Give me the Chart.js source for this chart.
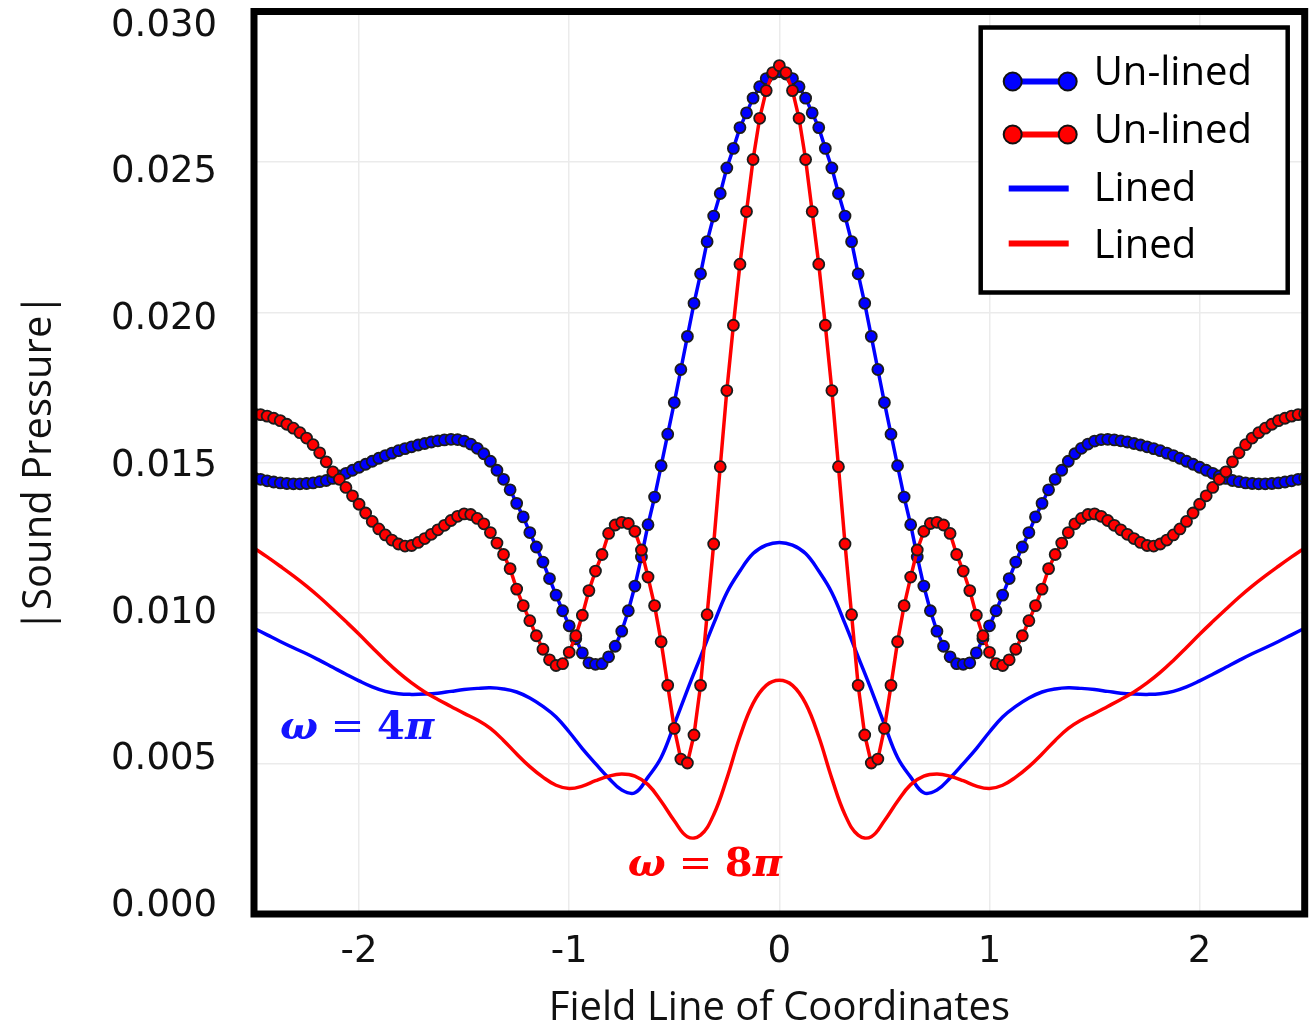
<!DOCTYPE html>
<html>
<head>
<meta charset="utf-8">
<script src="https://cdn.jsdelivr.net/npm/chart.js@4.4.0/dist/chart.umd.min.js"></script>
<style>
  html, body { margin: 0; padding: 0; background: #fff; }
  #wrap { width: 1312px; height: 1027px; }
</style>
</head>
<body>
<div id="wrap"><canvas id="chart" width="1312" height="1027"></canvas></div>
<script>
// sample positions along the field line (un-lined, with markers)
const xUnlined = [
  -2.5, -2.46875, -2.4375, -2.40625, -2.375, -2.34375, -2.3125, -2.28125, -2.25, -2.21875,
  -2.1875, -2.15625, -2.125, -2.09375, -2.0625, -2.03125, -2, -1.96875, -1.9375, -1.90625,
  -1.875, -1.84375, -1.8125, -1.78125, -1.75, -1.71875, -1.6875, -1.65625, -1.625, -1.59375,
  -1.5625, -1.53125, -1.5, -1.46875, -1.4375, -1.40625, -1.375, -1.34375, -1.3125, -1.28125,
  -1.25, -1.21875, -1.1875, -1.15625, -1.125, -1.09375, -1.0625, -1.03125, -1, -0.96875,
  -0.9375, -0.90625, -0.875, -0.84375, -0.8125, -0.78125, -0.75, -0.71875, -0.6875, -0.65625,
  -0.625, -0.59375, -0.5625, -0.53125, -0.5, -0.46875, -0.4375, -0.40625, -0.375, -0.34375,
  -0.3125, -0.28125, -0.25, -0.21875, -0.1875, -0.15625, -0.125, -0.09375, -0.0625, -0.03125,
  0,
  0.03125, 0.0625, 0.09375, 0.125, 0.15625, 0.1875, 0.21875, 0.25, 0.28125, 0.3125,
  0.34375, 0.375, 0.40625, 0.4375, 0.46875, 0.5, 0.53125, 0.5625, 0.59375, 0.625,
  0.65625, 0.6875, 0.71875, 0.75, 0.78125, 0.8125, 0.84375, 0.875, 0.90625, 0.9375,
  0.96875, 1, 1.03125, 1.0625, 1.09375, 1.125, 1.15625, 1.1875, 1.21875, 1.25,
  1.28125, 1.3125, 1.34375, 1.375, 1.40625, 1.4375, 1.46875, 1.5, 1.53125, 1.5625,
  1.59375, 1.625, 1.65625, 1.6875, 1.71875, 1.75, 1.78125, 1.8125, 1.84375, 1.875,
  1.90625, 1.9375, 1.96875, 2, 2.03125, 2.0625, 2.09375, 2.125, 2.15625, 2.1875,
  2.21875, 2.25, 2.28125, 2.3125, 2.34375, 2.375, 2.40625, 2.4375, 2.46875, 2.5
];

// |p| un-lined, omega = 4pi (blue dots)
const unlined4pi = [
  0.01450, 0.01445, 0.01440, 0.01436, 0.01433, 0.01431, 0.01430, 0.01430, 0.01431, 0.01433,
  0.01437, 0.01441, 0.01448, 0.01456, 0.01465, 0.01475, 0.01485, 0.01495, 0.01505, 0.01515,
  0.01524, 0.01532, 0.01540, 0.01547, 0.01553, 0.01559, 0.01564, 0.01569, 0.01573, 0.01576,
  0.01578, 0.01577, 0.01572, 0.01562, 0.01548, 0.01530, 0.01505, 0.01475, 0.01445, 0.01410,
  0.01365, 0.01320, 0.01268, 0.01220, 0.01170, 0.01115, 0.01060, 0.01008, 0.00958, 0.00915,
  0.00868, 0.00835, 0.00830, 0.00832, 0.00855, 0.00890, 0.00940, 0.01008, 0.01090, 0.01187,
  0.01294, 0.01386, 0.01490, 0.01595, 0.01700, 0.01810, 0.01920, 0.02030, 0.02128, 0.02235,
  0.02320, 0.02395, 0.02480, 0.02545, 0.02614, 0.02663, 0.02712, 0.02750, 0.02777, 0.02792,
  0.02800,
  0.02792, 0.02777, 0.02750, 0.02712, 0.02663, 0.02614, 0.02545, 0.02480, 0.02395, 0.02320,
  0.02235, 0.02128, 0.02030, 0.01920, 0.01810, 0.01700, 0.01595, 0.01490, 0.01386, 0.01294,
  0.01187, 0.01090, 0.01008, 0.00940, 0.00890, 0.00855, 0.00832, 0.00830, 0.00835, 0.00868,
  0.00915, 0.00958, 0.01008, 0.01060, 0.01115, 0.01170, 0.01220, 0.01268, 0.01320, 0.01365,
  0.01410, 0.01445, 0.01475, 0.01505, 0.01530, 0.01548, 0.01562, 0.01572, 0.01577, 0.01578,
  0.01576, 0.01573, 0.01569, 0.01564, 0.01559, 0.01553, 0.01547, 0.01540, 0.01532, 0.01524,
  0.01515, 0.01505, 0.01495, 0.01485, 0.01475, 0.01465, 0.01456, 0.01448, 0.01441, 0.01437,
  0.01433, 0.01431, 0.01430, 0.01430, 0.01431, 0.01433, 0.01436, 0.01440, 0.01445, 0.01450
];

// |p| un-lined, omega = 8pi (red dots)
const unlined8pi = [
  0.01663, 0.01660, 0.01655, 0.01648, 0.01640, 0.01628, 0.01615, 0.01600, 0.01582, 0.01560,
  0.01533, 0.01503, 0.01470, 0.01445, 0.01418, 0.01390, 0.01362, 0.01333, 0.01305, 0.01280,
  0.01260, 0.01243, 0.01230, 0.01223, 0.01225, 0.01235, 0.01248, 0.01262, 0.01277, 0.01292,
  0.01308, 0.01322, 0.01330, 0.01328, 0.01315, 0.01297, 0.01268, 0.01233, 0.01195, 0.01148,
  0.01080, 0.01025, 0.00975, 0.00925, 0.00880, 0.00845, 0.00826, 0.00832, 0.00870, 0.00925,
  0.00993, 0.01075, 0.01140, 0.01195, 0.01265, 0.01293, 0.01302, 0.01298, 0.01272, 0.01210,
  0.01120, 0.01025, 0.00905, 0.00760, 0.00617, 0.00515, 0.00502, 0.00595, 0.00760, 0.00995,
  0.01230, 0.01487, 0.01740, 0.01957, 0.02160, 0.02335, 0.02508, 0.02645, 0.02737, 0.02797,
  0.02820,
  0.02797, 0.02737, 0.02645, 0.02508, 0.02335, 0.02160, 0.01957, 0.01740, 0.01487, 0.01230,
  0.00995, 0.00760, 0.00595, 0.00502, 0.00515, 0.00617, 0.00760, 0.00905, 0.01025, 0.01120,
  0.01210, 0.01272, 0.01298, 0.01302, 0.01293, 0.01265, 0.01195, 0.01140, 0.01075, 0.00993,
  0.00925, 0.00870, 0.00832, 0.00826, 0.00845, 0.00880, 0.00925, 0.00975, 0.01025, 0.01080,
  0.01148, 0.01195, 0.01233, 0.01268, 0.01297, 0.01315, 0.01328, 0.01330, 0.01322, 0.01308,
  0.01292, 0.01277, 0.01262, 0.01248, 0.01235, 0.01225, 0.01223, 0.01230, 0.01243, 0.01260,
  0.01280, 0.01305, 0.01333, 0.01362, 0.01390, 0.01418, 0.01445, 0.01470, 0.01503, 0.01533,
  0.01560, 0.01582, 0.01600, 0.01615, 0.01628, 0.01640, 0.01648, 0.01655, 0.01660, 0.01663
];

// sample positions for the lined curves (plain lines)
const xLined = [
  -2.5, -2.4375, -2.375, -2.3125, -2.25, -2.1875, -2.125, -2.0625, -2, -1.9375,
  -1.875, -1.8125, -1.75, -1.6875, -1.625, -1.5625, -1.5, -1.4375, -1.375, -1.3125,
  -1.25, -1.1875, -1.125, -1.0625, -1, -0.9375, -0.875, -0.8125, -0.75, -0.6875,
  -0.625, -0.5625, -0.5, -0.4375, -0.375, -0.3125, -0.25, -0.1875, -0.125, -0.0625,
  0,
  0.0625, 0.125, 0.1875, 0.25, 0.3125, 0.375, 0.4375, 0.5, 0.5625, 0.625,
  0.6875, 0.75, 0.8125, 0.875, 0.9375, 1, 1.0625, 1.125, 1.1875, 1.25,
  1.3125, 1.375, 1.4375, 1.5, 1.5625, 1.625, 1.6875, 1.75, 1.8125, 1.875,
  1.9375, 2, 2.0625, 2.125, 2.1875, 2.25, 2.3125, 2.375, 2.4375, 2.5
];

const lined4pi = [
  0.00950, 0.00928, 0.00906, 0.00885, 0.00865, 0.00843, 0.00820, 0.00797, 0.00775, 0.00755,
  0.00740, 0.00732, 0.00730, 0.00731, 0.00734, 0.00740, 0.00746, 0.00750, 0.00752, 0.00748,
  0.00738, 0.00718, 0.00690, 0.00655, 0.00605, 0.00550, 0.00500, 0.00452, 0.00412, 0.00403,
  0.00455, 0.00520, 0.00630, 0.00745, 0.00855, 0.00965, 0.01068, 0.01140, 0.01198, 0.01226,
  0.01235,
  0.01226, 0.01198, 0.01140, 0.01068, 0.00965, 0.00855, 0.00745, 0.00630, 0.00520, 0.00455,
  0.00403, 0.00412, 0.00452, 0.00500, 0.00550, 0.00605, 0.00655, 0.00690, 0.00718, 0.00738,
  0.00748, 0.00752, 0.00750, 0.00746, 0.00740, 0.00734, 0.00731, 0.00730, 0.00732, 0.00740,
  0.00755, 0.00775, 0.00797, 0.00820, 0.00843, 0.00865, 0.00885, 0.00906, 0.00928, 0.00950
];

const lined8pi = [
  0.01217, 0.01187, 0.01156, 0.01124, 0.01090, 0.01053, 0.01013, 0.00972, 0.00930, 0.00886,
  0.00843, 0.00803, 0.00768, 0.00738, 0.00713, 0.00690, 0.00667, 0.00645, 0.00617, 0.00577,
  0.00532, 0.00490, 0.00455, 0.00428, 0.00417, 0.00425, 0.00443, 0.00458, 0.00465, 0.00458,
  0.00430, 0.00375, 0.00310, 0.00257, 0.00262, 0.00330, 0.00450, 0.00590, 0.00700, 0.00760,
  0.00777,
  0.00760, 0.00700, 0.00590, 0.00450, 0.00330, 0.00262, 0.00257, 0.00310, 0.00375, 0.00430,
  0.00458, 0.00465, 0.00458, 0.00443, 0.00425, 0.00417, 0.00428, 0.00455, 0.00490, 0.00532,
  0.00577, 0.00617, 0.00645, 0.00667, 0.00690, 0.00713, 0.00738, 0.00768, 0.00803, 0.00843,
  0.00886, 0.00930, 0.00972, 0.01013, 0.01053, 0.01090, 0.01124, 0.01156, 0.01187, 0.01217
];

const xTicks = [-2, -1, 0, 1, 2];
const yTicks = [0, 0.005, 0.010, 0.015, 0.020, 0.025, 0.030];

const BLUE = '#0000ff';
const RED = '#ff0000';

function pairs(xs, ys) {
  return xs.map((x, i) => ({ x: x, y: ys[i] }));
}

// frame round the plot area
const frame = {
  id: 'frame',
  afterDatasetsDraw(chart) {
    const a = chart.chartArea;
    const ctx = chart.ctx;
    ctx.save();
    ctx.lineWidth = 7;
    ctx.strokeStyle = '#000';
    ctx.strokeRect(a.left, a.top, a.right - a.left, a.bottom - a.top);
    ctx.restore();
  }
};

// omega labels, placed in data coordinates
const notes = [
  { x: -2.376, y: 0.00582, color: '#1414ff', n: '4' },
  { x: -0.721, y: 0.00126, color: '#ff0000', n: '8' }
];
const omegaLabels = {
  id: 'omegaLabels',
  afterDatasetsDraw(chart) {
    const ctx = chart.ctx;
    const sx = chart.scales.x, sy = chart.scales.y;
    const fam = '"DejaVu Serif", "Liberation Serif", serif';
    notes.forEach(nt => {
      let px = sx.getPixelForValue(nt.x);
      const py = sy.getPixelForValue(nt.y);
      const parts = [
        ['ω', 'italic bold 40px ' + fam],
        [' = ', '40px ' + fam],
        [nt.n, 'bold 40px ' + fam],
        ['π', 'italic bold 40px ' + fam]
      ];
      ctx.save();
      ctx.fillStyle = nt.color;
      ctx.textBaseline = 'alphabetic';
      ctx.textAlign = 'left';
      parts.forEach(p => {
        ctx.font = p[1];
        ctx.fillText(p[0], px, py);
        px += ctx.measureText(p[0]).width;
      });
      ctx.restore();
    });
  }
};

// legend with two markers on each un-lined sample
const legendRows = [
  { text: 'Un-lined', color: BLUE, dots: true, sy: 54, ty: 46 },
  { text: 'Un-lined', color: RED, dots: true, sy: 107, ty: 104 },
  { text: 'Lined', color: BLUE, dots: false, sy: 161, ty: 162 },
  { text: 'Lined', color: RED, dots: false, sy: 216, ty: 219 }
];
const legendBox = {
  id: 'legendBox',
  afterDraw(chart) {
    const ctx = chart.ctx;
    const a = chart.chartArea;
    const bx = a.right - 324, by = a.top + 16, bw = 307, bh = 265;
    ctx.save();
    ctx.fillStyle = '#fff';
    ctx.fillRect(bx, by, bw, bh);
    ctx.lineWidth = 4.5;
    ctx.strokeStyle = '#000';
    ctx.strokeRect(bx, by, bw, bh);
    legendRows.forEach(r => {
      const cy = by + r.sy;
      const x1 = bx + 32, x2 = bx + 87;
      ctx.strokeStyle = r.color;
      ctx.lineWidth = 6;
      ctx.beginPath();
      ctx.moveTo(r.dots ? x1 : bx + 28, cy);
      ctx.lineTo(r.dots ? x2 : bx + 88, cy);
      ctx.stroke();
      if (r.dots) {
        [x1, x2].forEach(mx => {
          ctx.beginPath();
          ctx.arc(mx, cy, 9, 0, Math.PI * 2);
          ctx.fillStyle = r.color;
          ctx.fill();
          ctx.lineWidth = 2;
          ctx.strokeStyle = '#111';
          ctx.stroke();
        });
      }
      ctx.fillStyle = '#000';
      ctx.font = '40px "Open Sans", "Noto Sans", sans-serif';
      ctx.textBaseline = 'middle';
      ctx.textAlign = 'left';
      ctx.fillText(r.text, bx + 113, by + r.ty);
    });
    ctx.restore();
  }
};

const tickFont = { family: '"DejaVu Sans", sans-serif', size: 37 };
const titleFont = { family: '"Open Sans", "Noto Sans", sans-serif', size: 40 };
const gridColor = '#ebebeb';

new Chart(document.getElementById('chart'), {
  type: 'line',
  data: {
    datasets: [
      {
        label: 'Un-lined',
        data: pairs(xUnlined, unlined8pi),
        borderColor: RED,
        backgroundColor: RED,
        borderWidth: 3.5,
        pointRadius: 5.5,
        pointBackgroundColor: RED,
        pointBorderColor: '#1c1c1c',
        pointBorderWidth: 1.8,
        tension: 0
      },
      {
        label: 'Un-lined',
        data: pairs(xUnlined, unlined4pi),
        borderColor: BLUE,
        backgroundColor: BLUE,
        borderWidth: 3.5,
        pointRadius: 5.5,
        pointBackgroundColor: BLUE,
        pointBorderColor: '#1c1c1c',
        pointBorderWidth: 1.8,
        tension: 0
      },
      {
        label: 'Lined',
        data: pairs(xLined, lined8pi),
        borderColor: RED,
        borderWidth: 3.5,
        pointRadius: 0,
        tension: 0.4
      },
      {
        label: 'Lined',
        data: pairs(xLined, lined4pi),
        borderColor: BLUE,
        borderWidth: 3.5,
        pointRadius: 0,
        tension: 0.4
      }
    ]
  },
  options: {
    responsive: false,
    animation: false,
    devicePixelRatio: 1,
    events: [],
    layout: { padding: { top: 11.5, right: 7, bottom: 0, left: 0 } },
    plugins: {
      legend: { display: false },
      tooltip: { enabled: false }
    },
    scales: {
      x: {
        type: 'linear',
        min: -2.5,
        max: 2.5,
        afterBuildTicks: s => { s.ticks = xTicks.map(v => ({ value: v })); },
        afterFit: s => { s.height = 113; },
        ticks: { font: tickFont, color: '#111', padding: 16 },
        grid: { color: gridColor, lineWidth: 1.5, drawTicks: false },
        border: { display: false },
        title: {
          display: true,
          text: 'Field Line of Coordinates',
          font: titleFont,
          color: '#111',
          padding: { top: -6, bottom: -6 }
        }
      },
      // value axis: grid only
      y: {
        type: 'linear',
        position: 'left',
        min: 0,
        max: 0.03,
        afterBuildTicks: s => { s.ticks = yTicks.map(v => ({ value: v })); },
        afterFit: s => { s.width = 0; s.paddingTop = 0; s.paddingBottom = 0; },
        ticks: { display: false },
        grid: { color: gridColor, lineWidth: 1.5, drawTicks: false },
        border: { display: false }
      },
      // label axis: tick labels set slightly inward as in the source figure
      yLabels: {
        type: 'linear',
        position: 'left',
        min: -0.000256,
        max: 0.030494,
        afterBuildTicks: s => { s.ticks = yTicks.map(v => ({ value: v })); },
        afterFit: s => { s.width = 254; s.paddingTop = 0; s.paddingBottom = 0; },
        ticks: {
          font: tickFont,
          color: '#111',
          padding: 37,
          callback: v => v.toFixed(3)
        },
        grid: { display: false, drawTicks: false },
        border: { display: false },
        title: {
          display: true,
          text: '|Sound Pressure|',
          font: titleFont,
          color: '#111',
          padding: { top: 16, bottom: 0 }
        }
      }
    }
  },
  plugins: [frame, omegaLabels, legendBox]
});
</script>
</body>
</html>
